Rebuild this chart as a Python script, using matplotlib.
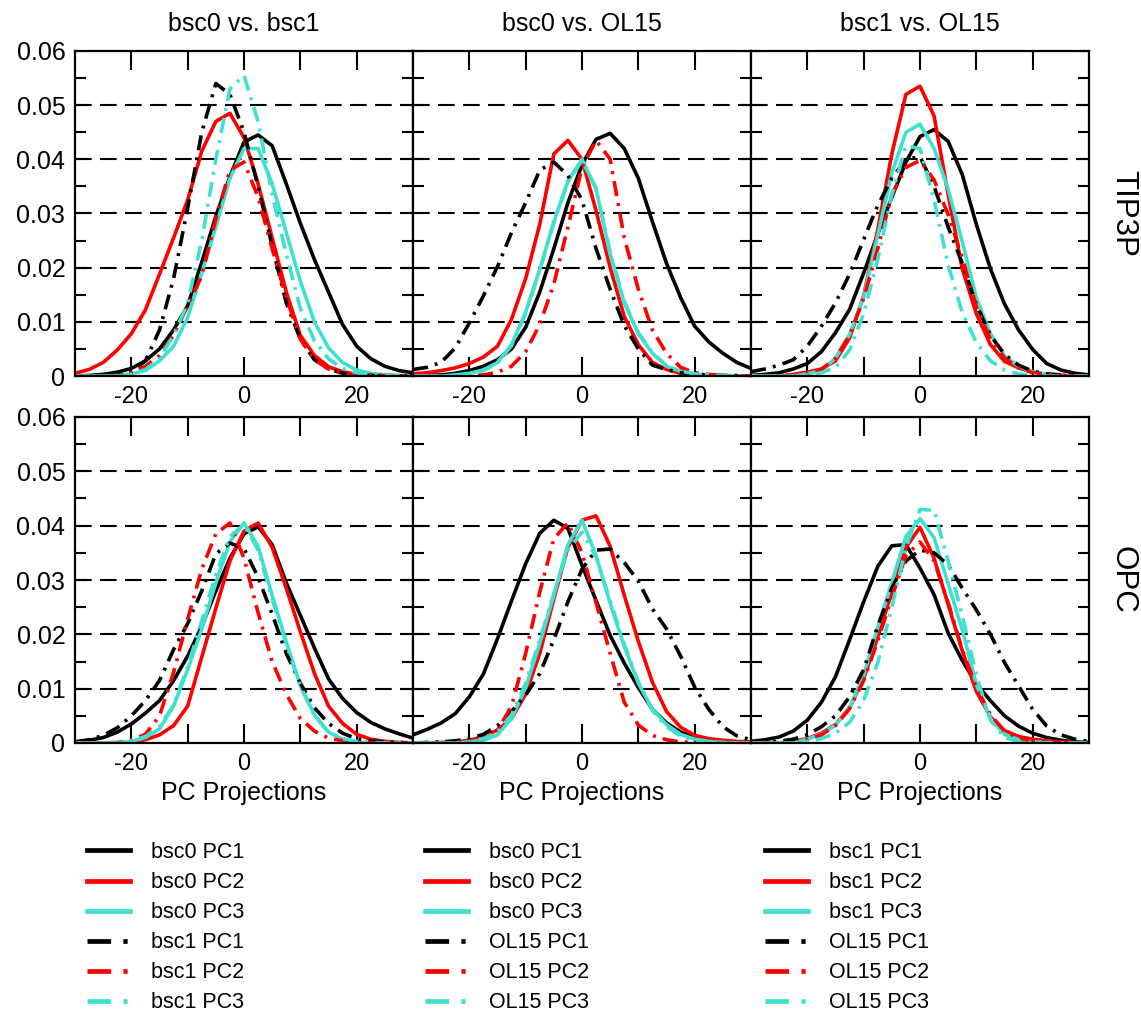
import matplotlib
matplotlib.use("Agg")
import matplotlib.pyplot as plt
from matplotlib.lines import Line2D

plt.rcParams['font.family'] = ['Liberation Sans', 'DejaVu Sans']

# Projection coordinate at which each density is sampled
proj = [-30.0, -27.5, -25.0, -22.5, -20.0, -17.5, -15.0, -12.5, -10.0, -7.5, -5.0, -2.5,
        0.0, 2.5, 5.0, 7.5, 10.0, 12.5, 15.0, 17.5, 20.0, 22.5, 25.0, 27.5, 30.0]

# ---- TIP3P, bsc0 vs. bsc1 ----
tip3p_b0b1_bsc0_pc1 = [0, 0.0001, 0.0003, 0.0007, 0.0014, 0.0028, 0.005, 0.0085, 0.013, 0.021, 0.0295, 0.0368, 0.0432, 0.0445, 0.0425, 0.0355, 0.0282, 0.0215, 0.0155, 0.0095, 0.0055, 0.0032, 0.0018, 0.001, 0.0006]
tip3p_b0b1_bsc0_pc2 = [0.0005, 0.0012, 0.0025, 0.0048, 0.0078, 0.0122, 0.0188, 0.0255, 0.0325, 0.0415, 0.047, 0.0485, 0.044, 0.0355, 0.0255, 0.0155, 0.0075, 0.0038, 0.0017, 0.0008, 0.0003, 0.0001, 0, 0, 0]
tip3p_b0b1_bsc0_pc3 = [0, 0, 0, 0.0001, 0.0004, 0.001, 0.0028, 0.0055, 0.0108, 0.019, 0.0275, 0.0365, 0.042, 0.042, 0.0355, 0.0265, 0.0175, 0.01, 0.0052, 0.0025, 0.0011, 0.0005, 0.0002, 0.0001, 0]
tip3p_b0b1_bsc1_pc1 = [0, 0, 0, 0.0001, 0.0008, 0.0028, 0.0085, 0.018, 0.031, 0.045, 0.054, 0.052, 0.045, 0.035, 0.024, 0.0135, 0.0068, 0.003, 0.0013, 0.0005, 0.0002, 0.0001, 0, 0, 0]
tip3p_b0b1_bsc1_pc2 = [0, 0, 0, 0, 0.0006, 0.0018, 0.0038, 0.0075, 0.013, 0.0185, 0.029, 0.038, 0.0395, 0.033, 0.0235, 0.0145, 0.0068, 0.003, 0.0013, 0.0006, 0.0003, 0.0002, 0.0001, 0.0001, 0]
tip3p_b0b1_bsc1_pc3 = [0, 0, 0, 0, 0.0003, 0.0012, 0.0032, 0.0075, 0.0135, 0.025, 0.04, 0.053, 0.0555, 0.047, 0.0335, 0.0225, 0.0125, 0.0065, 0.0032, 0.0014, 0.0006, 0.0002, 0.0001, 0, 0]

# ---- TIP3P, bsc0 vs. OL15 ----
tip3p_b0ol_bsc0_pc1 = [0, 0.0001, 0.0002, 0.0005, 0.001, 0.0018, 0.003, 0.005, 0.009, 0.0155, 0.0235, 0.032, 0.039, 0.0437, 0.0448, 0.042, 0.0365, 0.0285, 0.0208, 0.0145, 0.0092, 0.0063, 0.0042, 0.0025, 0.0014]
tip3p_b0ol_bsc0_pc2 = [0.0004, 0.0006, 0.001, 0.0015, 0.0023, 0.0035, 0.0055, 0.0105, 0.018, 0.028, 0.041, 0.0435, 0.04, 0.0305, 0.02, 0.011, 0.0058, 0.0025, 0.0012, 0.0005, 0.0002, 0.0001, 0, 0, 0]
tip3p_b0ol_bsc0_pc3 = [0, 0, 0, 0.0002, 0.0005, 0.0011, 0.0025, 0.0058, 0.0118, 0.0197, 0.0285, 0.036, 0.04, 0.0345, 0.0225, 0.0135, 0.0078, 0.0042, 0.0018, 0.0009, 0.0004, 0.0002, 0.0001, 0, 0]
tip3p_b0ol_ol15_pc1 = [0.0012, 0.0016, 0.0025, 0.0052, 0.0098, 0.0148, 0.0202, 0.0265, 0.032, 0.038, 0.0395, 0.037, 0.0325, 0.0235, 0.016, 0.0093, 0.005, 0.002, 0.0012, 0.0006, 0.0003, 0.0002, 0.0001, 0.0001, 0]
tip3p_b0ol_ol15_pc2 = [0, 0, 0, 0, 0, 0.0002, 0.0007, 0.0018, 0.0045, 0.0095, 0.017, 0.0275, 0.0385, 0.0435, 0.04, 0.0255, 0.016, 0.0085, 0.0042, 0.0016, 0.0006, 0.0003, 0.0001, 0, 0]
tip3p_b0ol_ol15_pc3 = [0, 0, 0, 0.0001, 0.0004, 0.001, 0.0024, 0.0056, 0.0115, 0.0195, 0.0283, 0.0358, 0.0398, 0.0347, 0.0228, 0.0138, 0.008, 0.0043, 0.0019, 0.0009, 0.0004, 0.0002, 0.0001, 0, 0]

# ---- TIP3P, bsc1 vs. OL15 ----
tip3p_b1ol_bsc1_pc1 = [0.0001, 0.0003, 0.0006, 0.0013, 0.0023, 0.0045, 0.008, 0.0123, 0.019, 0.0262, 0.033, 0.0395, 0.0442, 0.0455, 0.0433, 0.0372, 0.028, 0.0198, 0.0133, 0.0085, 0.0049, 0.0023, 0.0011, 0.0005, 0.0002]
tip3p_b1ol_bsc1_pc2 = [0, 0, 0, 0.0003, 0.0007, 0.0013, 0.0028, 0.007, 0.0148, 0.027, 0.041, 0.052, 0.0535, 0.048, 0.0335, 0.0198, 0.0115, 0.0058, 0.0027, 0.0015, 0.0007, 0.0003, 0.0001, 0, 0]
tip3p_b1ol_bsc1_pc3 = [0, 0, 0, 0, 0.0004, 0.001, 0.0033, 0.0077, 0.0145, 0.026, 0.0375, 0.045, 0.0465, 0.042, 0.0345, 0.0248, 0.0145, 0.0078, 0.0037, 0.0018, 0.0008, 0.0003, 0.0001, 0, 0]
tip3p_b1ol_ol15_pc1 = [0.0008, 0.0013, 0.002, 0.003, 0.0055, 0.0092, 0.0135, 0.0188, 0.0252, 0.0315, 0.0365, 0.04, 0.0405, 0.035, 0.0275, 0.0208, 0.0132, 0.0075, 0.004, 0.002, 0.0009, 0.0004, 0.0002, 0.0001, 0]
tip3p_b1ol_ol15_pc2 = [0, 0, 0, 0, 0.0004, 0.0012, 0.0033, 0.0075, 0.0143, 0.0235, 0.0335, 0.0385, 0.0398, 0.0362, 0.0298, 0.0218, 0.0128, 0.0068, 0.0033, 0.0015, 0.0006, 0.0003, 0.0001, 0, 0]
tip3p_b1ol_ol15_pc3 = [0, 0, 0, 0, 0.0002, 0.0006, 0.0016, 0.0048, 0.0115, 0.0215, 0.0335, 0.0425, 0.042, 0.0325, 0.0205, 0.0117, 0.0062, 0.0028, 0.0011, 0.0004, 0.0001, 0, 0, 0, 0]

# ---- OPC, bsc0 vs. bsc1 ----
opc_b0b1_bsc0_pc1 = [0.0002, 0.0005, 0.001, 0.002, 0.0035, 0.0055, 0.0078, 0.0115, 0.016, 0.0215, 0.028, 0.034, 0.0385, 0.0398, 0.0365, 0.0295, 0.0235, 0.0175, 0.0118, 0.0082, 0.0056, 0.0038, 0.0026, 0.0017, 0.0009]
opc_b0b1_bsc0_pc2 = [0, 0, 0, 0, 0.0002, 0.0006, 0.0015, 0.0032, 0.0068, 0.0158, 0.0248, 0.0335, 0.039, 0.0405, 0.036, 0.0285, 0.0205, 0.0128, 0.0068, 0.0036, 0.0016, 0.0007, 0.0003, 0.0001, 0]
opc_b0b1_bsc0_pc3 = [0, 0, 0, 0, 0.0003, 0.001, 0.0026, 0.0068, 0.0135, 0.021, 0.0295, 0.037, 0.0405, 0.0362, 0.0272, 0.0186, 0.0106, 0.0052, 0.002, 0.0007, 0.0002, 0, 0, 0, 0]
opc_b0b1_bsc1_pc1 = [0.0002, 0.0006, 0.0014, 0.0028, 0.005, 0.0078, 0.0115, 0.0172, 0.022, 0.028, 0.0348, 0.0368, 0.0358, 0.0305, 0.0237, 0.0165, 0.011, 0.0065, 0.0036, 0.0018, 0.0008, 0.0004, 0.0002, 0.0001, 0]
opc_b0b1_bsc1_pc2 = [0, 0, 0, 0.0001, 0.0005, 0.0016, 0.005, 0.013, 0.0228, 0.032, 0.0385, 0.0405, 0.034, 0.024, 0.015, 0.009, 0.0045, 0.0022, 0.0009, 0.0004, 0.0002, 0.0001, 0, 0, 0]
opc_b0b1_bsc1_pc3 = [0, 0, 0, 0, 0.0004, 0.0012, 0.003, 0.007, 0.014, 0.0225, 0.031, 0.038, 0.0402, 0.0355, 0.0265, 0.0182, 0.0105, 0.005, 0.002, 0.0008, 0.0003, 0.0001, 0, 0, 0]

# ---- OPC, bsc0 vs. OL15 ----
opc_b0ol_bsc0_pc1 = [0.0015, 0.0025, 0.0037, 0.0054, 0.0085, 0.0127, 0.0192, 0.0262, 0.033, 0.0386, 0.041, 0.0395, 0.0327, 0.0262, 0.0198, 0.0147, 0.0102, 0.0062, 0.0037, 0.002, 0.001, 0.0005, 0.0003, 0.0001, 0]
opc_b0ol_bsc0_pc2 = [0, 0, 0.0001, 0.0002, 0.0005, 0.0012, 0.0024, 0.0045, 0.009, 0.0165, 0.0265, 0.036, 0.041, 0.0418, 0.0362, 0.0272, 0.0187, 0.0112, 0.0058, 0.0029, 0.0014, 0.0008, 0.0005, 0.0003, 0.0002]
opc_b0ol_bsc0_pc3 = [0, 0, 0, 0, 0.0002, 0.0005, 0.0015, 0.0045, 0.0102, 0.0183, 0.0272, 0.0365, 0.041, 0.0345, 0.0257, 0.0178, 0.011, 0.0062, 0.0034, 0.0016, 0.0007, 0.0003, 0.0001, 0, 0]
opc_b0ol_ol15_pc1 = [0, 0.0001, 0.0002, 0.0004, 0.0008, 0.0016, 0.0032, 0.0058, 0.0088, 0.0128, 0.019, 0.026, 0.032, 0.0355, 0.0357, 0.0332, 0.0298, 0.0247, 0.021, 0.016, 0.0103, 0.0062, 0.003, 0.0013, 0.0006]
opc_b0ol_ol15_pc2 = [0, 0, 0, 0, 0.0002, 0.0008, 0.0023, 0.0068, 0.0165, 0.0278, 0.0376, 0.0405, 0.035, 0.0258, 0.0165, 0.0075, 0.0033, 0.0014, 0.0006, 0.0002, 0.0001, 0, 0, 0, 0]
opc_b0ol_ol15_pc3 = [0, 0, 0, 0, 0.0003, 0.0008, 0.002, 0.0052, 0.011, 0.019, 0.0275, 0.0355, 0.0388, 0.0342, 0.0262, 0.0182, 0.0112, 0.006, 0.003, 0.0013, 0.0005, 0.0002, 0.0001, 0, 0]

# ---- OPC, bsc1 vs. OL15 ----
opc_b1ol_bsc1_pc1 = [0.0003, 0.0006, 0.0011, 0.0022, 0.0042, 0.0075, 0.0122, 0.019, 0.026, 0.0325, 0.0363, 0.0365, 0.0322, 0.0273, 0.0202, 0.0152, 0.0109, 0.0078, 0.005, 0.0031, 0.0018, 0.001, 0.0005, 0.0002, 0.0001]
opc_b1ol_bsc1_pc2 = [0, 0, 0, 0.0003, 0.0008, 0.0018, 0.0034, 0.0065, 0.0119, 0.0195, 0.0278, 0.036, 0.0397, 0.034, 0.0255, 0.017, 0.0095, 0.0048, 0.0023, 0.0012, 0.0007, 0.0004, 0.0002, 0.0001, 0]
opc_b1ol_bsc1_pc3 = [0, 0, 0, 0, 0.0007, 0.0016, 0.0033, 0.0065, 0.0125, 0.0213, 0.0296, 0.038, 0.0413, 0.0378, 0.0293, 0.0208, 0.0108, 0.0045, 0.0016, 0.0006, 0.0002, 0.0001, 0, 0, 0]
opc_b1ol_ol15_pc1 = [0, 0.0001, 0.0003, 0.0007, 0.0015, 0.003, 0.005, 0.0085, 0.0135, 0.0215, 0.0285, 0.0335, 0.0355, 0.035, 0.0328, 0.0285, 0.0245, 0.02, 0.0148, 0.0105, 0.0062, 0.0031, 0.0015, 0.0007, 0.0003]
opc_b1ol_ol15_pc2 = [0, 0, 0, 0, 0.0006, 0.0015, 0.0032, 0.0063, 0.0115, 0.0188, 0.0268, 0.0345, 0.037, 0.0335, 0.0258, 0.0172, 0.0102, 0.0052, 0.0022, 0.0009, 0.0004, 0.0002, 0.0001, 0, 0]
opc_b1ol_ol15_pc3 = [0, 0, 0, 0, 0.0003, 0.0008, 0.0018, 0.0038, 0.0078, 0.0148, 0.025, 0.036, 0.043, 0.0428, 0.0335, 0.0235, 0.0125, 0.0042, 0.001, 0.0003, 0.0001, 0, 0, 0, 0]

column_titles = ["bsc0 vs. bsc1", "bsc0 vs. OL15", "bsc1 vs. OL15"]
row_titles = ["TIP3P", "OPC"]
legend_labels = [
    ["bsc0 PC1", "bsc0 PC2", "bsc0 PC3", "bsc1 PC1", "bsc1 PC2", "bsc1 PC3"],
    ["bsc0 PC1", "bsc0 PC2", "bsc0 PC3", "OL15 PC1", "OL15 PC2", "OL15 PC3"],
    ["bsc1 PC1", "bsc1 PC2", "bsc1 PC3", "OL15 PC1", "OL15 PC2", "OL15 PC3"],
]
x_ticks = [-20, -10, 0, 10, 20]
x_ticklabels = ["-20", "", "0", "", "20"]
y_ticks = [0, 0.005, 0.01, 0.015, 0.02, 0.025, 0.03, 0.035, 0.04, 0.045, 0.05, 0.055, 0.06]
y_ticklabels = ["0", "", "0.01", "", "0.02", "", "0.03", "", "0.04", "", "0.05", "", "0.06"]
grid_levels = [0.01, 0.02, 0.03, 0.04, 0.05]

panels = [
    [
        [tip3p_b0b1_bsc0_pc1, tip3p_b0b1_bsc0_pc2, tip3p_b0b1_bsc0_pc3,
         tip3p_b0b1_bsc1_pc1, tip3p_b0b1_bsc1_pc2, tip3p_b0b1_bsc1_pc3],
        [tip3p_b0ol_bsc0_pc1, tip3p_b0ol_bsc0_pc2, tip3p_b0ol_bsc0_pc3,
         tip3p_b0ol_ol15_pc1, tip3p_b0ol_ol15_pc2, tip3p_b0ol_ol15_pc3],
        [tip3p_b1ol_bsc1_pc1, tip3p_b1ol_bsc1_pc2, tip3p_b1ol_bsc1_pc3,
         tip3p_b1ol_ol15_pc1, tip3p_b1ol_ol15_pc2, tip3p_b1ol_ol15_pc3],
    ],
    [
        [opc_b0b1_bsc0_pc1, opc_b0b1_bsc0_pc2, opc_b0b1_bsc0_pc3,
         opc_b0b1_bsc1_pc1, opc_b0b1_bsc1_pc2, opc_b0b1_bsc1_pc3],
        [opc_b0ol_bsc0_pc1, opc_b0ol_bsc0_pc2, opc_b0ol_bsc0_pc3,
         opc_b0ol_ol15_pc1, opc_b0ol_ol15_pc2, opc_b0ol_ol15_pc3],
        [opc_b1ol_bsc1_pc1, opc_b1ol_bsc1_pc2, opc_b1ol_bsc1_pc3,
         opc_b1ol_ol15_pc1, opc_b1ol_ol15_pc2, opc_b1ol_ol15_pc3],
    ],
]

colors = ["black", "#ff0000", "#40e0d0"]
CURVE_LW = 2.6
DASHDOT = (4.2, 2.0, 0.8, 2.0)

W, H = 1141, 1013
fig = plt.figure(figsize=(W / 100, H / 100), dpi=100)

col_left = [75, 413, 751]
col_width = 338
row_span = [(51, 376), (417, 743)]
col_center = [c + col_width / 2 for c in col_left]

for r in range(2):
    top, bottom = row_span[r]
    for c in range(3):
        ax = fig.add_axes([col_left[c] / W, 1 - bottom / H, col_width / W, (bottom - top) / H])
        for lvl in grid_levels:
            ax.axhline(lvl, color="black", lw=1.5, dashes=(8, 4), zorder=1)
        for k, series in enumerate(panels[r][c]):
            if len(series) != len(proj):
                raise ValueError("series length mismatch")
            if k < 3:
                ax.plot(proj, series, color=colors[k], lw=CURVE_LW, zorder=2 + k,
                        solid_joinstyle="round")
            else:
                ax.plot(proj, series, color=colors[k - 3], lw=CURVE_LW, zorder=5 + k,
                        dashes=DASHDOT)
        ax.set_xlim(-30, 30)
        ax.set_ylim(0, 0.06)
        ax.set_xticks(x_ticks)
        ax.set_xticklabels(x_ticklabels, fontsize=17)
        ax.set_yticks(y_ticks)
        if c == 0:
            ax.set_yticklabels(y_ticklabels, fontsize=18)
        else:
            ax.set_yticklabels([])
        ax.tick_params(direction="in", top=True, right=True, width=1.5)
        ax.tick_params(axis="x", length=14, pad=7)
        ax.tick_params(axis="y", length=8, pad=7)
        for sp in ax.spines.values():
            sp.set_linewidth(1.6)
            sp.set_zorder(20)

for c in range(3):
    fig.text(col_center[c] / W, 1 - 24 / H, column_titles[c], ha="center", va="center", fontsize=18)
    fig.text(col_center[c] / W, 1 - 793 / H, "PC Projections", ha="center", va="center", fontsize=18)

fig.text(1123 / W, 1 - 213 / H, row_titles[0], rotation=-90, ha="center", va="center", fontsize=22.5)
fig.text(1123 / W, 1 - 580 / H, row_titles[1], rotation=-90, ha="center", va="center", fontsize=22.5)

# Legends under each column
leg_x = [87, 425, 765]
for c in range(3):
    handles = []
    for k in range(6):
        if k < 3:
            handles.append(Line2D([], [], color=colors[k], lw=3.4))
        else:
            handles.append(Line2D([], [], color=colors[k - 3], lw=3.4, dashes=(5.0, 2.6, 0.9, 3)))
    fig.legend(handles, legend_labels[c], loc="upper left",
               bbox_to_anchor=(leg_x[c] / W, 1 - 842 / H), frameon=False,
               fontsize=15.5, handlelength=2.0, handletextpad=0.95,
               labelspacing=0.42, borderpad=0, borderaxespad=0)

fig.savefig("out.png", dpi=100)
